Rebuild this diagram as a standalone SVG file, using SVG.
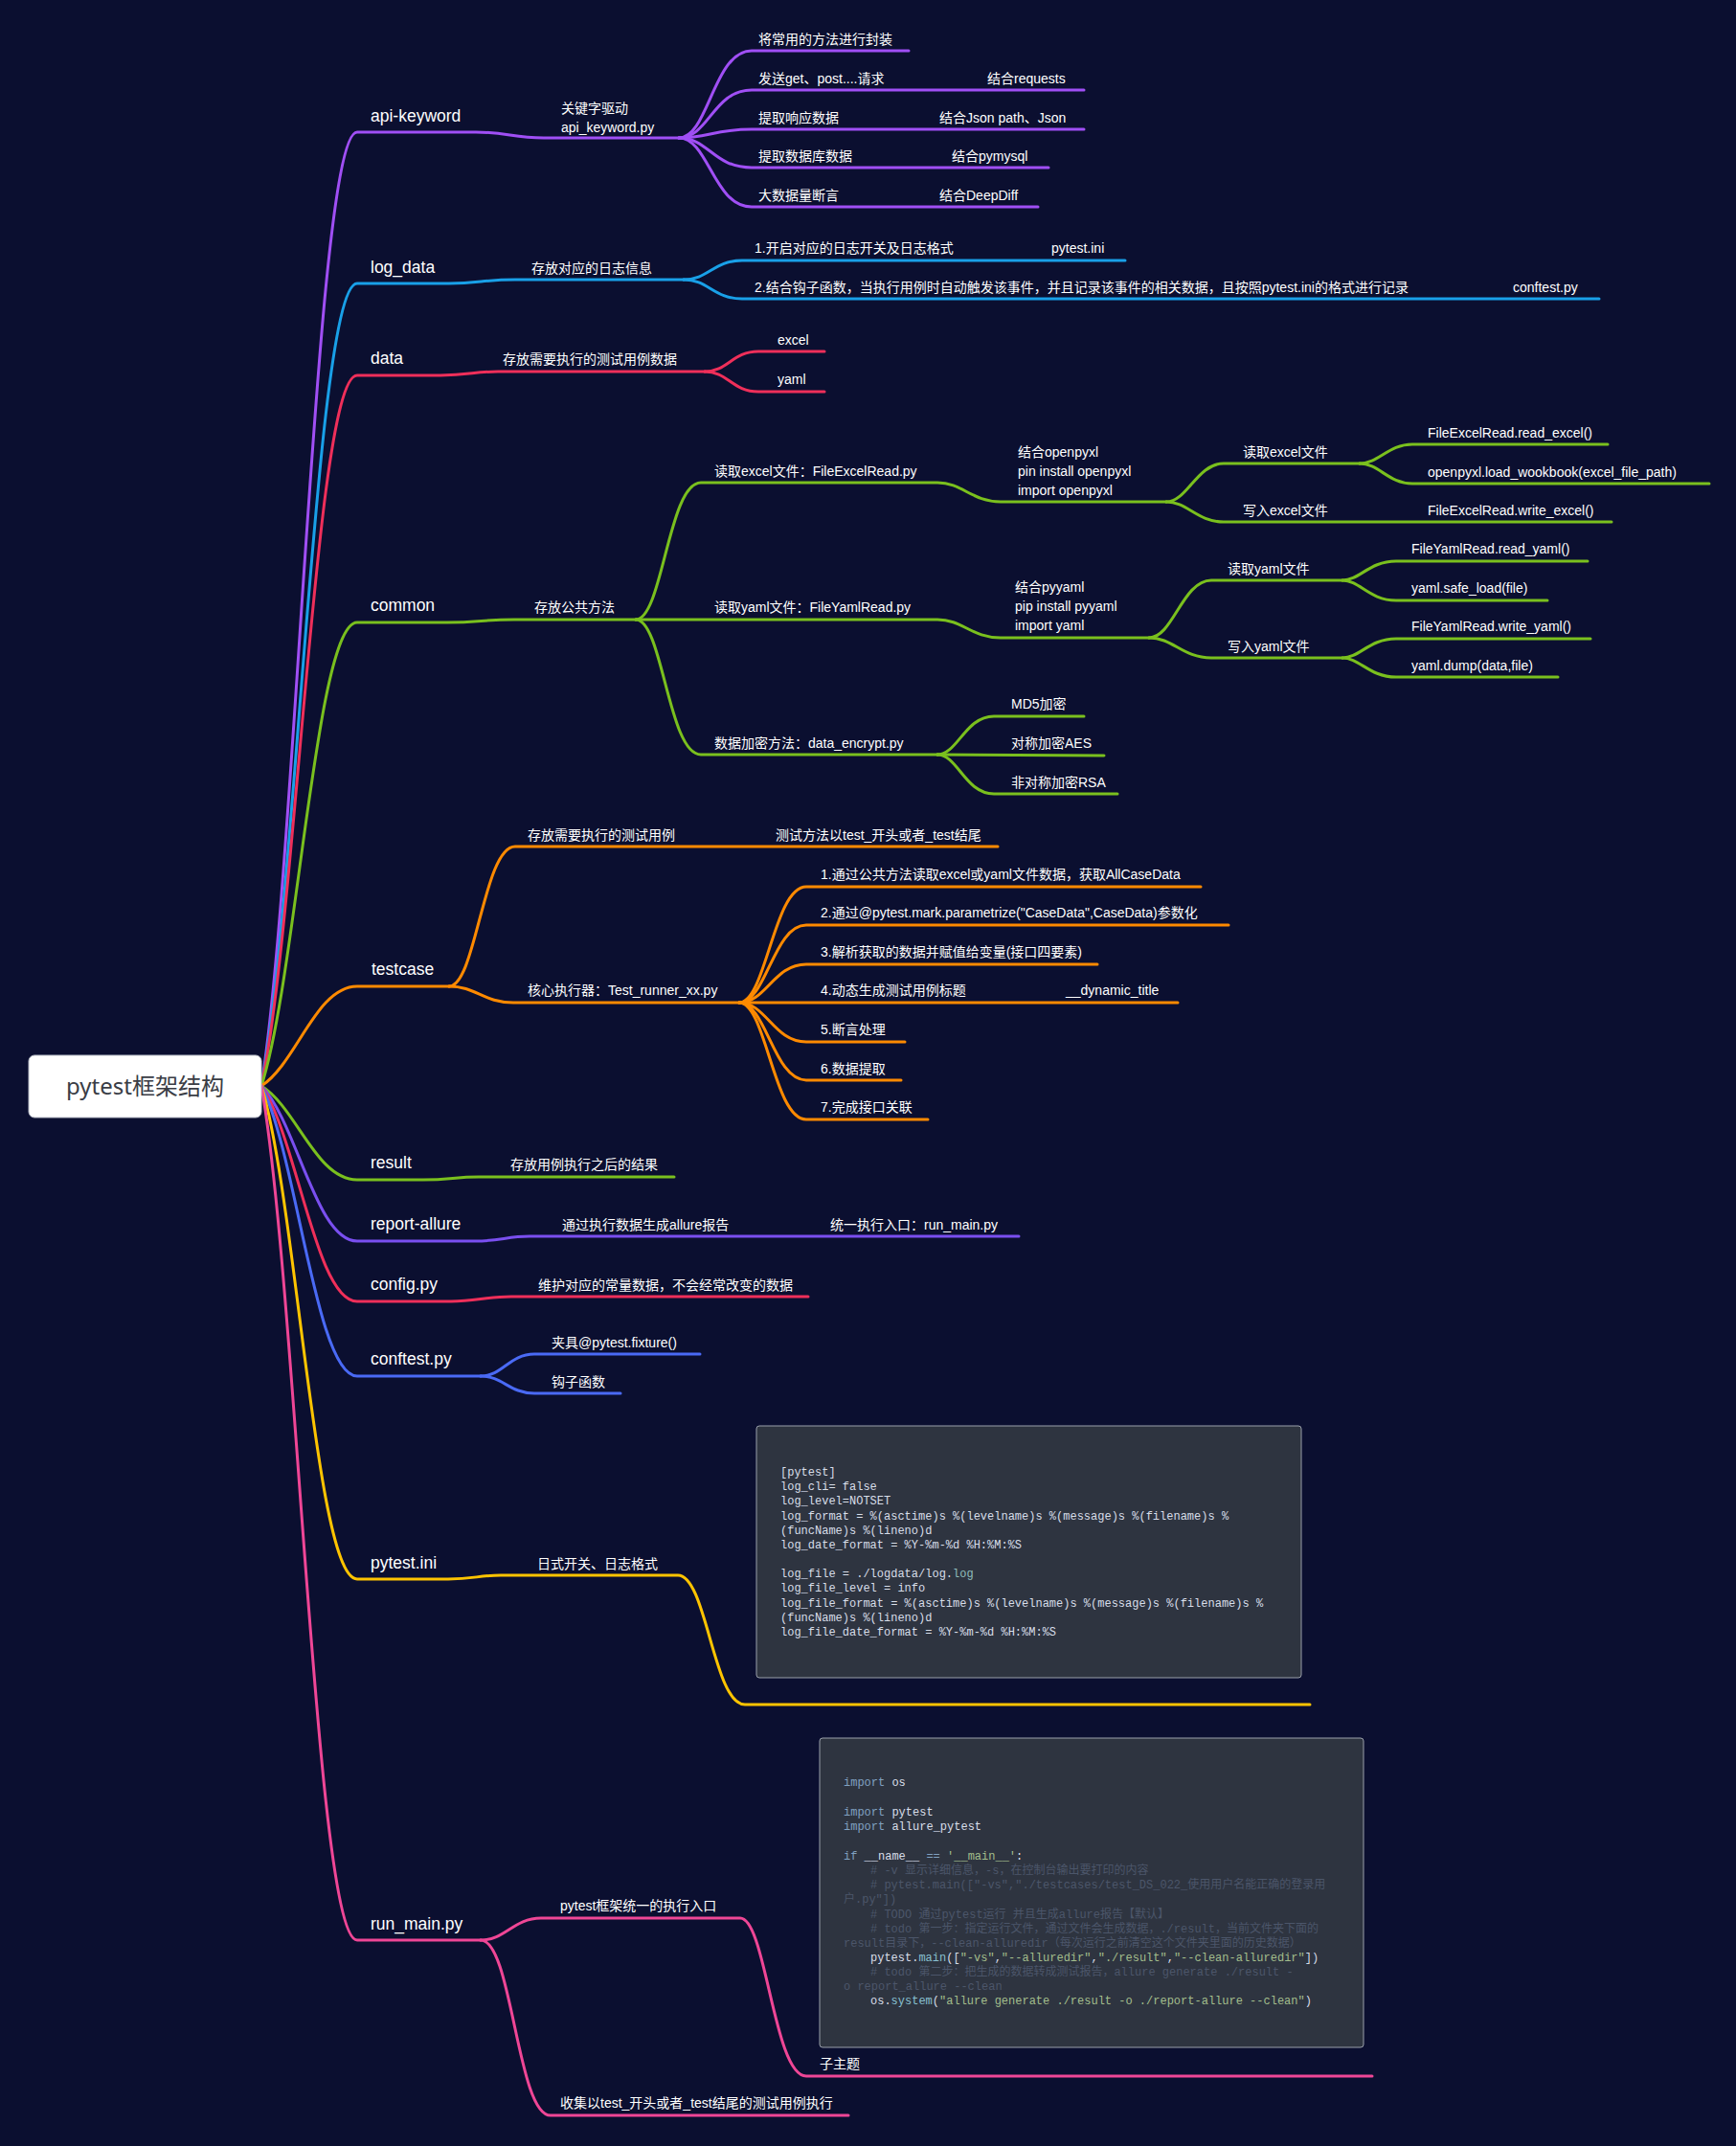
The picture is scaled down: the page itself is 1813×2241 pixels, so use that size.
<svg xmlns="http://www.w3.org/2000/svg" width="1813" height="2241" viewBox="0 0 1813 2241">
<style>
.ln{fill:none;stroke-width:3;stroke-linecap:round;stroke-linejoin:round}
.pu{stroke:#a04ff5}.bl{stroke:#19a0e8}.rd{stroke:#ef2f5a}.gr{stroke:#7ac01e}.or{stroke:#ff8a00}
.vi{stroke:#7a4ff0}.cb{stroke:#4a6af5}.ye{stroke:#ffc400}.pk{stroke:#ef4696}
text{fill:#ffffff;font-family:"Liberation Sans","Noto Sans CJK SC",sans-serif}
.t1{font-size:17.5px}
.t2{font-size:14px}
.root{font-family:"Noto Sans","Noto Sans CJK SC",sans-serif;font-size:24px;fill:#3a3d45}
.box{fill:#2e3440;stroke:#9aa0aa;stroke-width:1}
.code{font-family:"Liberation Mono","Noto Sans CJK SC",monospace;font-size:12px;fill:#d8dee9}
.kw{fill:#81a1c1}.fn{fill:#88c0d0}.st{fill:#a3be8c}.cm{fill:#4c566a}.tl{fill:#8fbcbb}
</style>
<rect width="1813" height="2241" fill="#0b0f30"/>
<g id="connectors">
<path class="ln pu" d="M273,1134 C310,900 330,138 373,138 L497,138 C530,138 535,144 568,144 L709,144"/>
<path class="ln pu" d="M709,144 C740,144 745,53 785,53 L949,53"/>
<path class="ln pu" d="M709,144 C740,144 745,94 785,94 L1132,94"/>
<path class="ln pu" d="M709,144 C740,144 745,135 785,135 L1132,135"/>
<path class="ln pu" d="M709,144 C740,144 745,175 785,175 L1095,175"/>
<path class="ln pu" d="M709,144 C740,144 745,216 785,216 L1084,216"/>
<path class="ln bl" d="M273,1134 C310,937 330,296 373,296 L469,296 C500,296 505,292 538,292 L714,292"/>
<path class="ln bl" d="M714,292 C740,292 745,272 775,272 L1175,272"/>
<path class="ln bl" d="M714,292 C740,292 745,312 775,312 L1670,312"/>
<path class="ln rd" d="M273,1134 C310,960 330,392 373,392 L460,392 C490,392 495,388 520,388 L736,388"/>
<path class="ln rd" d="M736,388 C760,388 765,367 792,367 L861,367"/>
<path class="ln rd" d="M736,388 C760,388 765,409 792,409 L861,409"/>
<path class="ln gr" d="M273,1134 C310,1020 330,650 373,650 L467,650 C500,650 505,647 537,647 L664,647"/>
<path class="ln gr" d="M664,647 C692,647 698,504 732,504 L979,504 C1005,504 1015,524 1045,524 L1218,524"/>
<path class="ln gr" d="M664,647 L979,647 C1005,647 1015,666 1045,666 L1200,666"/>
<path class="ln gr" d="M664,647 C692,647 698,788 732,788 L979,788"/>
<path class="ln gr" d="M1218,524 C1240,524 1250,484 1278,484 L1420,484"/>
<path class="ln gr" d="M1218,524 C1240,524 1250,545 1278,545 L1683,545"/>
<path class="ln gr" d="M1420,484 C1440,484 1450,464 1475,464 L1679,464"/>
<path class="ln gr" d="M1420,484 C1440,484 1450,505 1475,505 L1785,505"/>
<path class="ln gr" d="M1200,666 C1225,666 1235,606 1265,606 L1402,606"/>
<path class="ln gr" d="M1200,666 C1225,666 1235,687 1265,687 L1402,687"/>
<path class="ln gr" d="M1402,606 C1420,606 1430,586 1458,586 L1658,586"/>
<path class="ln gr" d="M1402,606 C1420,606 1430,627 1458,627 L1616,627"/>
<path class="ln gr" d="M1402,687 C1420,687 1430,667 1458,667 L1661,667"/>
<path class="ln gr" d="M1402,687 C1420,687 1430,707 1458,707 L1627,707"/>
<path class="ln gr" d="M979,788 C1000,788 1008,748 1038,748 L1132,748"/>
<path class="ln gr" d="M979,788 L1153,789"/>
<path class="ln gr" d="M979,788 C1000,788 1008,829 1038,829 L1167,829"/>
<path class="ln or" d="M273,1134 C310,1110 330,1030 373,1030 L469,1030"/>
<path class="ln or" d="M469,1030 C497,1030 505,884 538,884 L1042,884"/>
<path class="ln or" d="M469,1030 C497,1030 505,1047 536,1047 L772,1047"/>
<path class="ln or" d="M772,1047 C800,1047 808,926 842,926 L1254,926"/>
<path class="ln or" d="M772,1047 C800,1047 808,966 842,966 L1283,966"/>
<path class="ln or" d="M772,1047 C800,1047 808,1007 842,1007 L1146,1007"/>
<path class="ln or" d="M772,1047 L1230,1047"/>
<path class="ln or" d="M772,1047 C800,1047 808,1088 842,1088 L945,1088"/>
<path class="ln or" d="M772,1047 C800,1047 808,1128 842,1128 L941,1128"/>
<path class="ln or" d="M772,1047 C800,1047 808,1169 842,1169 L969,1169"/>
<path class="ln gr" d="M273,1134 C310,1157 330,1232 373,1232 L442,1232 C470,1232 475,1229 500,1229 L704,1229"/>
<path class="ln vi" d="M273,1134 C310,1172 330,1296 373,1296 L497,1296 C522,1296 530,1291 553,1291 L1064,1291"/>
<path class="ln rd" d="M273,1134 C310,1187 330,1359 373,1359 L471,1359 C497,1359 507,1354 534,1354 L844,1354"/>
<path class="ln cb" d="M273,1134 C310,1205 330,1437 373,1437 L502,1437"/>
<path class="ln cb" d="M502,1437 C525,1437 532,1414 558,1414 L731,1414"/>
<path class="ln cb" d="M502,1437 C525,1437 532,1455 558,1455 L648,1455"/>
<path class="ln ye" d="M273,1134 C310,1255 330,1649 373,1649 L468,1649 C495,1649 500,1645 523,1645 L708,1645 C738,1645 745,1780 778,1780 L1368,1780"/>
<path class="ln pk" d="M273,1134 C310,1344 330,2026 373,2026 L502,2026"/>
<path class="ln pk" d="M502,2026 C528,2026 536,2003 565,2003 L773,2003 C800,2003 808,2168 842,2168 L1433,2168"/>
<path class="ln pk" d="M502,2026 C535,2026 540,2209 575,2209 L886,2209"/>
</g>

<g id="root">
<rect x="30" y="1102" width="243" height="65" rx="6" fill="#ffffff" stroke="#b8bcc6" stroke-width="1"/>
<text class="root" x="151.5" y="1143" text-anchor="middle">pytest框架结构</text>
</g>

<g id="api-keyword">
<text class="t1" x="387" y="127">api-keyword</text>
<text class="t2" x="586" y="118">关键字驱动</text>
<text class="t2" x="586" y="138">api_keyword.py</text>
<text class="t2" x="792" y="46">将常用的方法进行封装</text>
<text class="t2" x="792" y="87">发送get、post....请求</text>
<text class="t2" x="1031" y="87">结合requests</text>
<text class="t2" x="792" y="128">提取响应数据</text>
<text class="t2" x="981" y="128">结合Json path、Json</text>
<text class="t2" x="792" y="168">提取数据库数据</text>
<text class="t2" x="994" y="168">结合pymysql</text>
<text class="t2" x="792" y="209">大数据量断言</text>
<text class="t2" x="981" y="209">结合DeepDiff</text>
</g>

<g id="log_data">
<text class="t1" x="387" y="285">log_data</text>
<text class="t2" x="555" y="285">存放对应的日志信息</text>
<text class="t2" x="788" y="264">1.开启对应的日志开关及日志格式</text>
<text class="t2" x="1098" y="264">pytest.ini</text>
<text class="t2" x="788" y="305">2.结合钩子函数，当执行用例时自动触发该事件，并且记录该事件的相关数据，且按照pytest.ini的格式进行记录</text>
<text class="t2" x="1580" y="305">conftest.py</text>
</g>

<g id="data">
<text class="t1" x="387" y="380">data</text>
<text class="t2" x="525" y="380">存放需要执行的测试用例数据</text>
<text class="t2" x="812" y="360">excel</text>
<text class="t2" x="812" y="401">yaml</text>
</g>

<g id="common">
<text class="t1" x="387" y="638">common</text>
<text class="t2" x="558" y="639">存放公共方法</text>
<text class="t2" x="746" y="497">读取excel文件：FileExcelRead.py</text>
<text class="t2" x="1063" y="477">结合openpyxl</text>
<text class="t2" x="1063" y="497">pin install openpyxl</text>
<text class="t2" x="1063" y="517">import openpyxl</text>
<text class="t2" x="1298" y="477">读取excel文件</text>
<text class="t2" x="1491" y="457">FileExcelRead.read_excel()</text>
<text class="t2" x="1491" y="498">openpyxl.load_wookbook(excel_file_path)</text>
<text class="t2" x="1298" y="538">写入excel文件</text>
<text class="t2" x="1491" y="538">FileExcelRead.write_excel()</text>
<text class="t2" x="746" y="639">读取yaml文件：FileYamlRead.py</text>
<text class="t2" x="1060" y="618">结合pyyaml</text>
<text class="t2" x="1060" y="638">pip install pyyaml</text>
<text class="t2" x="1060" y="658">import yaml</text>
<text class="t2" x="1282" y="599">读取yaml文件</text>
<text class="t2" x="1474" y="578">FileYamlRead.read_yaml()</text>
<text class="t2" x="1474" y="619">yaml.safe_load(file)</text>
<text class="t2" x="1282" y="680">写入yaml文件</text>
<text class="t2" x="1474" y="659">FileYamlRead.write_yaml()</text>
<text class="t2" x="1474" y="700">yaml.dump(data,file)</text>
<text class="t2" x="746" y="781">数据加密方法：data_encrypt.py</text>
<text class="t2" x="1056" y="740">MD5加密</text>
<text class="t2" x="1056" y="781">对称加密AES</text>
<text class="t2" x="1056" y="822">非对称加密RSA</text>
</g>

<g id="testcase">
<text class="t1" x="388" y="1018">testcase</text>
<text class="t2" x="551" y="877">存放需要执行的测试用例</text>
<text class="t2" x="810" y="877">测试方法以test_开头或者_test结尾</text>
<text class="t2" x="551" y="1039">核心执行器：Test_runner_xx.py</text>
<text class="t2" x="857" y="918">1.通过公共方法读取excel或yaml文件数据，获取AllCaseData</text>
<text class="t2" x="857" y="958">2.通过@pytest.mark.parametrize("CaseData",CaseData)参数化</text>
<text class="t2" x="857" y="999">3.解析获取的数据并赋值给变量(接口四要素)</text>
<text class="t2" x="857" y="1039">4.动态生成测试用例标题</text>
<text class="t2" x="1113" y="1039">__dynamic_title</text>
<text class="t2" x="857" y="1080">5.断言处理</text>
<text class="t2" x="857" y="1121">6.数据提取</text>
<text class="t2" x="857" y="1161">7.完成接口关联</text>
</g>

<g id="result">
<text class="t1" x="387" y="1220">result</text>
<text class="t2" x="533" y="1221">存放用例执行之后的结果</text>
</g>

<g id="report-allure">
<text class="t1" x="387" y="1284">report-allure</text>
<text class="t2" x="587" y="1284">通过执行数据生成allure报告</text>
<text class="t2" x="867" y="1284">统一执行入口：run_main.py</text>
</g>

<g id="config-py">
<text class="t1" x="387" y="1347">config.py</text>
<text class="t2" x="562" y="1347">维护对应的常量数据，不会经常改变的数据</text>
</g>

<g id="conftest-py">
<text class="t1" x="387" y="1425">conftest.py</text>
<text class="t2" x="576" y="1407">夹具@pytest.fixture()</text>
<text class="t2" x="576" y="1448">钩子函数</text>
</g>

<g id="pytest-ini">
<text class="t1" x="387" y="1638">pytest.ini</text>
<text class="t2" x="561" y="1638">日式开关、日志格式</text>
<rect class="box" x="790" y="1489" width="569" height="263" rx="3"/>
<text class="code" x="815" y="1541">[pytest]</text>
<text class="code" x="815" y="1556">log_cli= false</text>
<text class="code" x="815" y="1571">log_level=NOTSET</text>
<text class="code" x="815" y="1587">log_format = %(asctime)s %(levelname)s %(message)s %(filename)s %</text>
<text class="code" x="815" y="1602">(funcName)s %(lineno)d</text>
<text class="code" x="815" y="1617">log_date_format = %Y-%m-%d %H:%M:%S</text>
<text class="code" x="815" y="1647">log_file = ./logdata/log.<tspan class="tl">log</tspan></text>
<text class="code" x="815" y="1662">log_file_level = info</text>
<text class="code" x="815" y="1678">log_file_format = %(asctime)s %(levelname)s %(message)s %(filename)s %</text>
<text class="code" x="815" y="1693">(funcName)s %(lineno)d</text>
<text class="code" x="815" y="1708">log_file_date_format = %Y-%m-%d %H:%M:%S</text>
</g>

<g id="run_main-py">
<text class="t1" x="387" y="2015">run_main.py</text>
<text class="t2" x="585" y="1995">pytest框架统一的执行入口</text>
<text class="t2" x="856" y="2160">子主题</text>
<text class="t2" x="585" y="2201">收集以test_开头或者_test结尾的测试用例执行</text>
<rect class="box" x="856" y="1815" width="568" height="323" rx="3"/>
<text class="code" x="881" y="1865"><tspan class="kw">import</tspan> os</text>
<text class="code" x="881" y="1896"><tspan class="kw">import</tspan> pytest</text>
<text class="code" x="881" y="1911"><tspan class="kw">import</tspan> allure_pytest</text>
<text class="code" x="881" y="1942"><tspan class="kw">if</tspan> __name__ <tspan class="kw">==</tspan> <tspan class="st">'__main__'</tspan>:</text>
<text class="code cm" x="909" y="1957"># -v 显示详细信息，-s，在控制台输出要打印的内容</text>
<text class="code cm" x="909" y="1972"># pytest.main(["-vs","./testcases/test_DS_022_使用用户名能正确的登录用</text>
<text class="code cm" x="881" y="1987">户.py"])</text>
<text class="code cm" x="909" y="2003"># TODO 通过pytest运行 并且生成allure报告【默认】</text>
<text class="code cm" x="909" y="2018"># todo  第一步：指定运行文件，通过文件会生成数据，./result，当前文件夹下面的</text>
<text class="code cm" x="881" y="2033">result目录下，--clean-alluredir（每次运行之前清空这个文件夹里面的历史数据）</text>
<text class="code" x="909" y="2048">pytest.<tspan class="fn">main</tspan>([<tspan class="st">"-vs"</tspan>,<tspan class="st">"--alluredir"</tspan>,<tspan class="st">"./result"</tspan>,<tspan class="st">"--clean-alluredir"</tspan>])</text>
<text class="code cm" x="909" y="2063"># todo  第二步：把生成的数据转成测试报告，allure generate ./result -</text>
<text class="code cm" x="881" y="2078">o report_allure --clean</text>
<text class="code" x="909" y="2093">os.<tspan class="fn">system</tspan>(<tspan class="st">"allure generate ./result -o ./report-allure --clean"</tspan>)</text>
</g>
</svg>
